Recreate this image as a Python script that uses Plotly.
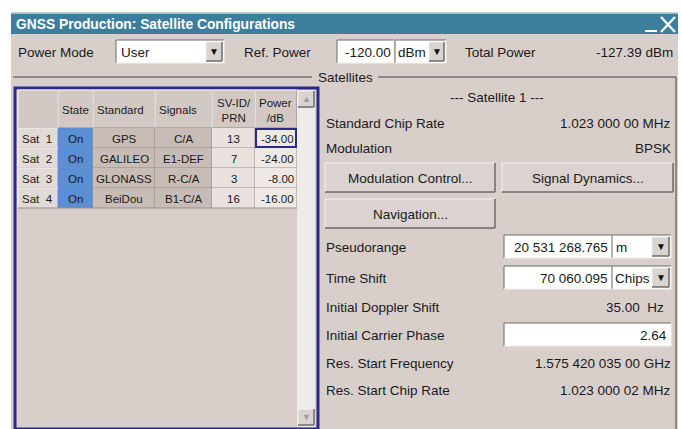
import plotly.graph_objects as go

# ---------------- data ----------------
window_title = "GNSS Production: Satellite Configurations"
power_mode = "User"
ref_power = -120.00
ref_power_unit = "dBm"
total_power = -127.39

header_labels = ["", "State", "Standard", "Signals", "SV-ID/<br>PRN", "Power<br>/dB"]
sat_labels = ["Sat  1", "Sat  2", "Sat  3", "Sat  4"]
states = ["On", "On", "On", "On"]
standards = ["GPS", "GALILEO", "GLONASS", "BeiDou"]
signals = ["C/A", "E1-DEF", "R-C/A", "B1-C/A"]
sv_ids = [13, 7, 3, 16]
powers_db = [-34.00, -24.00, -8.00, -16.00]

selected_sat = "--- Satellite 1 ---"
info_labels = ["Standard Chip Rate", "Modulation"]
info_values = ["1.023 000 00 MHz", "BPSK"]
button_labels = ["Modulation Control...", "Signal Dynamics...", "Navigation..."]
pseudorange = "20 531 268.765"
pseudorange_unit = "m"
time_shift = "70 060.095"
time_shift_unit = "Chips"
doppler_shift = "35.00  Hz"
carrier_phase = "2.64"
res_labels = ["Res. Start Frequency", "Res. Start Chip Rate"]
res_values = ["1.575 420 035 00 GHz", "1.023 000 02 MHz"]

# ---------------- style ----------------
FONT = "Liberation Sans, Arial, sans-serif"
BG = "#d8cfcb"
TITLE_BG = "#3b7c9d"
TXT = "#1a1a1a"
DARK = "#6f6a67"
LIGHT = "#f4f1ef"
NAVY = "#2a2a8c"

shapes = []
annots = []


def rect(x0, y0, x1, y1, fill, line=None, lw=1):
    shapes.append(dict(type="rect", x0=x0, y0=y0, x1=x1, y1=y1, xref="x", yref="y",
                       fillcolor=fill, line=dict(color=line or fill, width=lw if line else 0),
                       layer="below"))


def line(x0, y0, x1, y1, color, w=1, layer="below"):
    shapes.append(dict(type="line", x0=x0, y0=y0, x1=x1, y1=y1, xref="x", yref="y",
                       line=dict(color=color, width=w), layer=layer))


def text(x, y, s, anchor="left", size=13.5, color=TXT, bold=False):
    if bold:
        s = "<b>" + s + "</b>"
    annots.append(dict(x=x, y=y, xref="x", yref="y", text=s, showarrow=False,
                       xanchor=anchor, yanchor="middle", borderpad=0,
                       font=dict(family=FONT, size=size, color=color)))


def sunken(x0, y0, x1, y1, fill="white"):
    rect(x0, y0, x1, y1, fill)
    line(x0, y0, x1, y0, DARK)
    line(x0, y0, x0, y1, DARK)
    line(x0, y1, x1, y1, LIGHT)
    line(x1, y0, x1, y1, LIGHT)


def raised(x0, y0, x1, y1, fill=BG):
    rect(x0, y0, x1, y1, fill)
    line(x0, y0, x1, y0, LIGHT)
    line(x0, y0, x0, y1, LIGHT)
    line(x0, y1, x1, y1, DARK, 1.5)
    line(x1, y0, x1, y1, DARK, 1.5)


def arrow_button(x0, y0, x1, y1, down=True, color="#111", size=10):
    raised(x0, y0, x1, y1, "#d9d4d1")
    text((x0 + x1) / 2, (y0 + y1) / 2, "▼" if down else "▲", "center", size, color)


# window
rect(11, 13, 678, 429, BG)
line(11, 13, 678, 13, "#9a9a9a")
rect(11, 14, 678, 34, TITLE_BG)
for yy in range(15, 34, 2):
    line(11, yy, 678, yy, "#4687a6", 0.5)
text(15, 24, window_title, "left", 13.8, "white", True)
# minimize / close glyphs
line(645, 31, 657, 31, "white", 2, "above")
line(661, 17, 675, 32, "white", 2.2, "above")
line(675, 17, 661, 32, "white", 2.2, "above")

# top row
text(17, 52, "Power Mode")
sunken(116, 40, 224, 63)
text(120, 52, power_mode)
arrow_button(206, 42, 222, 61)
text(243, 52, "Ref. Power")
sunken(337, 40, 394, 63)
text(392, 52, f"{ref_power:.2f}", "right")
sunken(395, 40, 446, 63)
text(397, 52, ref_power_unit)
arrow_button(429, 42, 444, 61)
text(464, 52, "Total Power")
text(674, 52, f"{total_power:.2f} dBm", "right")

# group box
line(13, 77, 312, 77, "#444", 1)
line(378, 77, 676, 77, "#444", 1)
line(676, 77, 676, 429, "#444", 1)
text(345, 77, "Satellites", "center")

# table frame
rect(15, 88, 318, 429, BG, NAVY, 3)
col_edges = [18, 58, 93, 155, 212, 255, 297]
head_y0, head_y1 = 90, 128
row_h = 20
for i, lab in enumerate(header_labels):
    x0, x1 = col_edges[i], col_edges[i + 1]
    rect(x0, head_y0, x1, head_y1, "#d3c9c4")
    line(x0, head_y0, x0, head_y1, LIGHT)
    line(x0, head_y0, x1, head_y0, LIGHT)
    line(x1, head_y0, x1, head_y1, "#8f8784")
    line(x0, head_y1, x1, head_y1, "#8f8784")
    if lab:
        if i in (1, 4):
            text((x0 + x1) / 2, (head_y0 + head_y1) / 2 + 1, lab, "center", 11.5)
        else:
            text(x0 + 3, (head_y0 + head_y1) / 2 + 1, lab, "left", 11.5)

cell_fills = ["#e2dad6", "#5a8fd2", "#c7bcb6", "#c7bcb6", "#e8e1dd", "#efe9e6"]
for r in range(len(sat_labels)):
    y0 = head_y1 + r * row_h
    y1 = y0 + row_h
    ym = (y0 + y1) / 2 + 0.5
    vals = [sat_labels[r], states[r], standards[r], signals[r], str(sv_ids[r]), f"{powers_db[r]:.2f}"]
    for c, v in enumerate(vals):
        x0, x1 = col_edges[c], col_edges[c + 1]
        rect(x0, y0, x1, y1, cell_fills[c])
        line(x1, y0, x1, y1, "#958d89")
        line(x0, y1, x1, y1, "#958d89")
        if c == 0:
            line(x0, y0, x1, y0, LIGHT)
            line(x0, y0, x0, y1, LIGHT)
            text(x0 + 3, ym, v, "left", 11.5)
        elif c == 5:
            text(x1 - 2, ym, v, "right", 11.5)
        else:
            text((x0 + x1) / 2, ym, v, "center", 11.5)
# selected power cell
shapes.append(dict(type="rect", x0=256, y0=129, x1=296, y1=147, xref="x", yref="y",
                   fillcolor="rgba(0,0,0,0)", line=dict(color=NAVY, width=2)))
# scrollbar
rect(297, 90, 315, 427, "#eeecea")
arrow_button(298, 91, 314, 107, down=False, color="#9a9a9a", size=9)
arrow_button(298, 409, 314, 425, down=True, color="#9a9a9a", size=9)

# right panel
text(497, 97, selected_sat, "center")
for i, (lab, val) in enumerate(zip(info_labels, info_values)):
    y = 123 + i * 25
    text(325, y, lab)
    text(672, y, val, "right")

btn_boxes = [(325, 163, 495, 192), (502, 163, 673, 192), (325, 199, 495, 228)]
for (x0, y0, x1, y1), lab in zip(btn_boxes, button_labels):
    raised(x0, y0, x1, y1, "#dbd3cf")
    text((x0 + x1) / 2, (y0 + y1) / 2 + 1, lab, "center")

text(325, 247, "Pseudorange")
sunken(504, 235, 612, 258)
text(609, 247, pseudorange, "right")
sunken(612, 235, 671, 258)
text(615, 247, pseudorange_unit)
arrow_button(652, 237, 669, 256)

text(325, 278, "Time Shift")
sunken(504, 266, 612, 289)
text(609, 278, time_shift, "right")
sunken(612, 266, 671, 289)
text(614, 278, time_shift_unit)
arrow_button(652, 268, 669, 287)

text(325, 307, "Initial Doppler Shift")
text(665, 307, doppler_shift, "right")

text(325, 335, "Initial Carrier Phase")
sunken(504, 323, 671, 346)
text(668, 335, carrier_phase, "right")

for i, (lab, val) in enumerate(zip(res_labels, res_values)):
    y = 363 + i * 27
    text(325, y, lab)
    text(672, y, val, "right")

fig = go.Figure()
fig.add_trace(go.Scatter(x=[0, 682], y=[0, 429], mode="markers",
                         marker=dict(opacity=0), hoverinfo="skip", showlegend=False))
fig.update_layout(
    width=682, height=429, margin=dict(l=0, r=0, t=0, b=0),
    paper_bgcolor="white", plot_bgcolor="white",
    xaxis=dict(range=[0, 682], visible=False, fixedrange=True),
    yaxis=dict(range=[429, 0], visible=False, fixedrange=True),
    shapes=shapes, annotations=annots, showlegend=False,
)
fig.write_html("out.html", config={"displayModeBar": False},
               post_script="document.body.style.margin='0px';document.body.style.overflow='hidden';")
